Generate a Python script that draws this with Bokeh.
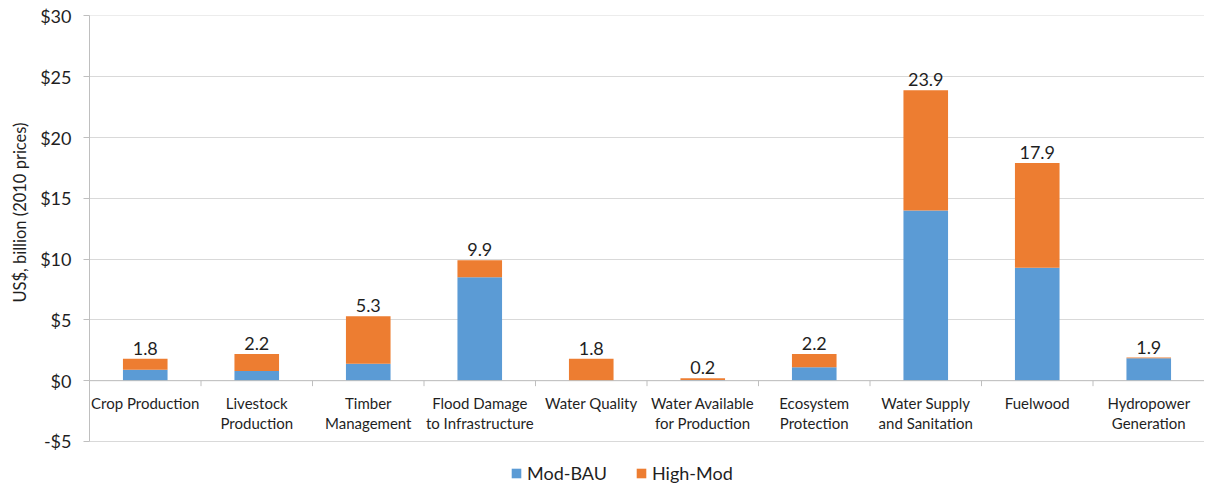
from bokeh.plotting import figure
from bokeh.models import (ColumnDataSource, FixedTicker, NumeralTickFormatter, Span, Legend,
                          LegendItem, Title)
from bokeh.core.properties import value
from bokeh.embed import file_html
from bokeh.resources import INLINE

categories = ["Crop Production", "Livestock\nProduction", "Timber\nManagement",
              "Flood Damage\nto Infrastructure", "Water Quality", "Water Available\nfor Production",
              "Ecosystem\nProtection", "Water Supply\nand Sanitation", "Fuelwood", "Hydropower\nGeneration"]
mod_bau = [0.9, 0.8, 1.4, 8.5, 0.0, 0.05, 1.1, 14.0, 9.3, 1.85]
totals = [1.8, 2.2, 5.3, 9.9, 1.8, 0.2, 2.2, 23.9, 17.9, 1.9]
high_mod = [round(t - m, 3) for t, m in zip(totals, mod_bau)]
y_ticks = [-5, 0, 5, 10, 15, 20, 25, 30]

FONT = "Lato"
BLUE = "#5B9BD5"
ORANGE = "#ED7D31"
TXT = "#1f1f1f"

n = len(categories)
xs = [i + 0.5 for i in range(n)]
src = ColumnDataSource(dict(x=xs, mod=mod_bau, high=high_mod, total=totals,
                            lab=["%.1f" % t for t in totals], cat=categories))

# frame spans the legend area too; axis line is bounded to -5..30
p = figure(width=1204, height=484, x_range=(0, n), y_range=(-8.54, 30.04),
           output_backend="svg", toolbar_location=None, x_axis_location=None,
           min_border_left=89, min_border_right=0, min_border_top=15, min_border_bottom=0)
p.outline_line_color = None
p.xgrid.grid_line_color = None
p.ygrid.grid_line_color = "#d9d9d9"
p.ygrid.ticker = FixedTicker(ticks=y_ticks)

ya = p.yaxis[0]
ya.ticker = FixedTicker(ticks=y_ticks)
ya.bounds = (min(y_ticks), max(y_ticks))
ya.formatter = NumeralTickFormatter(format="$0")
ya.axis_line_color = "#bfbfbf"
ya.major_tick_line_color = "#bfbfbf"
ya.major_tick_in = 0
ya.major_tick_out = 6
ya.minor_tick_line_color = None
ya.major_label_standoff = 12
ya.major_label_text_font = FONT
ya.major_label_text_font_size = "18px"
ya.major_label_text_color = TXT

ytitle = Title(text="US$, billion (2010 prices)", align="right", offset=107,
               vertical_align="middle", text_font=FONT, text_font_size="16.5px",
               text_font_style="normal", text_color=TXT, standoff=14)
p.add_layout(ytitle, "left")

renderers = p.vbar_stack(["mod", "high"], x="x", width=0.4, source=src,
                         color=[BLUE, ORANGE], line_color=None)

# category baseline and separators
p.add_layout(Span(location=0, dimension="width", line_color="#bfbfbf", line_width=1))
bounds = list(range(1, n))
p.segment(x0=bounds, x1=bounds, y0=[0] * len(bounds), y1=[-0.45] * len(bounds),
          line_color="#bfbfbf", line_width=1)

p.text(x="x", y="total", text="lab", source=src, text_align="center", text_baseline="bottom",
       y_offset=-4, text_font=value(FONT), text_font_size="18px", text_color=TXT)
p.text(x="x", y=0, text="cat", source=src, text_align="center", text_baseline="top",
       y_offset=13, text_font=value(FONT), text_font_size="15px", text_color=TXT,
       text_line_height=1.15)

legend = Legend(items=[LegendItem(label="Mod-BAU", renderers=[renderers[0]]),
                       LegendItem(label="High-Mod", renderers=[renderers[1]])],
                location=(421, 0), orientation="horizontal",
                glyph_width=12, glyph_height=12, label_standoff=5, spacing=28,
                padding=0, margin=0, label_text_font=FONT, label_text_font_size="18px",
                label_text_color=TXT, border_line_color=None, background_fill_alpha=0)
p.add_layout(legend, "center")

open("out.html", "w").write(file_html(p, INLINE))
